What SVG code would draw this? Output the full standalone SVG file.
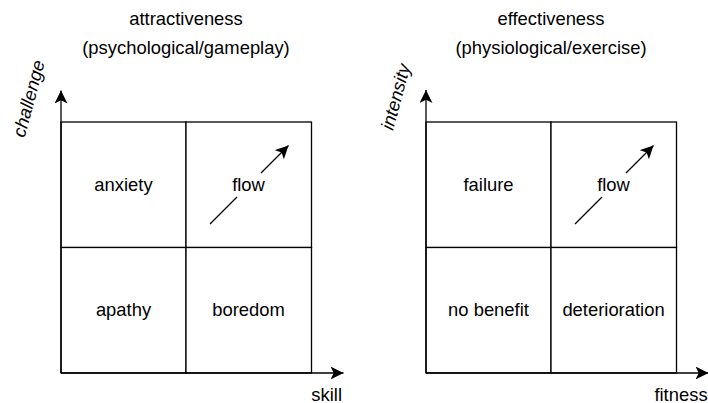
<svg xmlns="http://www.w3.org/2000/svg" width="708" height="403" viewBox="0 0 708 403">
  <style>
    text { font-family: "Liberation Sans", Arial, Helvetica, sans-serif; font-size: 18.4px; fill: #000; text-anchor: middle; }
    .cell { fill: #fff; stroke: #000; stroke-width: 1.3; }
    .axis, .arrow { fill: none; stroke: #000; stroke-width: 1.3; marker-end: url(#head); }
    .axislabel { font-style: italic; }
  </style>
  <defs>
    <marker id="head" viewBox="0 0 13 13" refX="13" refY="6.5" markerWidth="13" markerHeight="13" markerUnits="userSpaceOnUse" orient="auto">
      <path d="M13,6.5 L0,0 L3.2,6.5 L0,13 Z" fill="#000"/>
    </marker>
  </defs>

  <!-- titles -->
  <g id="title-left">
    <text x="186" y="25">attractiveness</text>
    <text x="186" y="54">(psychological/gameplay)</text>
  </g>
  <g id="title-right">
    <text x="551" y="25">effectiveness</text>
    <text x="551" y="54">(physiological/exercise)</text>
  </g>

  <!-- left grid -->
  <g id="cell-anxiety">
    <rect class="cell" x="61" y="122" width="125" height="125.5"/>
    <text x="123.5" y="191">anxiety</text>
  </g>
  <g id="cell-flow-left">
    <rect class="cell" x="186" y="122" width="125.5" height="125.5"/>
  </g>
  <g id="cell-apathy">
    <rect class="cell" x="61" y="247.5" width="125" height="125.5"/>
    <text x="123.5" y="316">apathy</text>
  </g>
  <g id="cell-boredom">
    <rect class="cell" x="186" y="247.5" width="125.5" height="125.5"/>
    <text x="248.5" y="316">boredom</text>
  </g>

  <!-- right grid -->
  <g id="cell-failure">
    <rect class="cell" x="426" y="122" width="125" height="125.5"/>
    <text x="488.5" y="191">failure</text>
  </g>
  <g id="cell-flow-right">
    <rect class="cell" x="551" y="122" width="125.5" height="125.5"/>
  </g>
  <g id="cell-nobenefit">
    <rect class="cell" x="426" y="247.5" width="125" height="125.5"/>
    <text x="488.5" y="316">no benefit</text>
  </g>
  <g id="cell-deterioration">
    <rect class="cell" x="551" y="247.5" width="125.5" height="125.5"/>
    <text x="613.5" y="316">deterioration</text>
  </g>

  <!-- axes and flow arrows -->
  <g id="connectors">
    <path class="axis" d="M61,373 L61,90.5"/>
    <path class="axis" d="M61,373 L343.5,373"/>
    <path class="axis" d="M426,373 L426,90"/>
    <path class="axis" d="M426,373 L708.5,373"/>
    <path class="arrow" d="M210,224 L237,197 M261,173 L288.5,145.5"/>
    <path class="arrow" d="M575,224 L602,197 M626,173 L653.5,145.5"/>
  </g>

  <!-- labels -->
  <g id="label-flow-left"><text x="248.5" y="191">flow</text></g>
  <g id="label-flow-right"><text x="613.5" y="191">flow</text></g>
  <g id="label-challenge">
    <text class="axislabel" transform="translate(28.5,98.5) rotate(-75)" x="0" y="6.5">challenge</text>
  </g>
  <g id="label-intensity">
    <text class="axislabel" transform="translate(395.5,96.7) rotate(-75)" x="0" y="6.5">intensity</text>
  </g>
  <g id="label-skill"><text x="326.7" y="401">skill</text></g>
  <g id="label-fitness"><text x="681" y="401">fitness</text></g>
</svg>
